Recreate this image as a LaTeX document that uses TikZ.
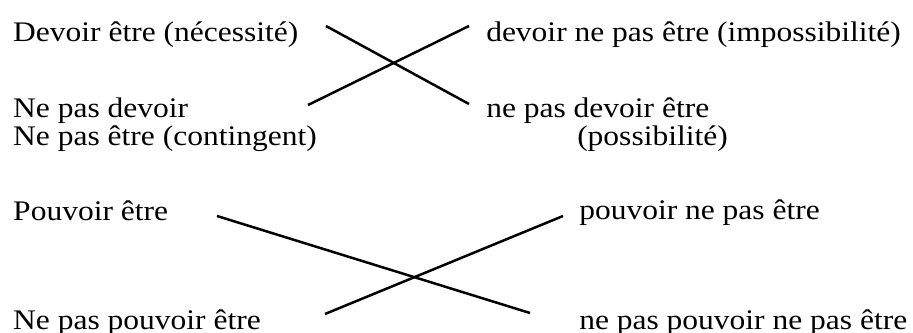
\documentclass[tikz,border=0pt]{standalone}
\usepackage{fontspec}
\setmainfont{Liberation Serif}
\usepackage{tikz}
\usetikzlibrary{positioning}

\begin{document}
\begin{tikzpicture}[
  x=0.4pt,y=-0.4pt,
  every node/.style={anchor=base west,inner sep=0pt,yscale=0.9,font=\fontsize{12.6}{15}\selectfont},
  line width=1pt]
  \useasboundingbox(0,0) rectangle (913,333);
  % devoir
  \node(nec) at(12,41){Devoir être (nécessité)};
  \node(imp) at(485,41){devoir ne pas être (impossibilité)};
  \node(nondev) at(12,117){Ne pas devoir};
  \node(cont) at(12,145){Ne pas être (contingent)};
  \node(nondevetre) at(485,117){ne pas devoir être};
  \node(possib) at(576,145){(possibilité)};
  \coordinate(d1) at(326,26);\coordinate(d2) at(469,104);
  \coordinate(d3) at(308,105);\coordinate(d4) at(469,26);
  \draw(d1)--(d2);\draw(d3)--(d4);
  % pouvoir
  \node(pouv) at(12,220){Pouvoir être};
  \node(pouvnon) at(578,219){pouvoir ne pas être};
  \node(nonpouv) at(12,329){Ne pas pouvoir être};
  \node(nonpouvnon) at(578,329){ne pas pouvoir ne pas être};
  \coordinate(p1) at(217,216);\coordinate(p2) at(530,313);
  \coordinate(p3) at(325,314);\coordinate(p4) at(563,216);
  \draw(p1)--(p2);\draw(p3)--(p4);
\end{tikzpicture}
\end{document}
